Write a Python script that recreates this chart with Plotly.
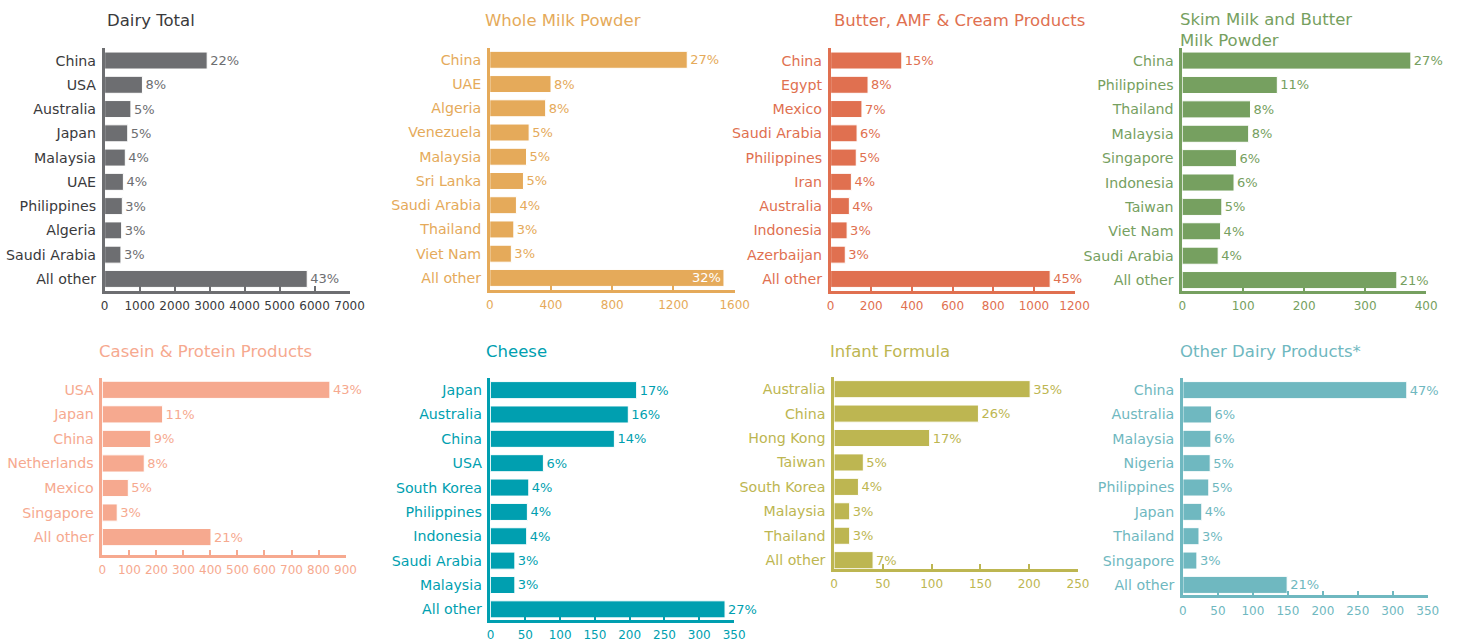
import plotly.graph_objects as go

# ---------------- data ----------------
dairy_total_countries = ["China", "USA", "Australia", "Japan", "Malaysia", "UAE", "Philippines", "Algeria", "Saudi Arabia", "All other"]
dairy_total_values = [2930, 1080, 750, 660, 590, 535, 505, 485, 465, 5790]
dairy_total_pct = ["22%", "8%", "5%", "5%", "4%", "4%", "3%", "3%", "3%", "43%"]

wmp_countries = ["China", "UAE", "Algeria", "Venezuela", "Malaysia", "Sri Lanka", "Saudi Arabia", "Thailand", "Viet Nam", "All other"]
wmp_values = [1290, 400, 365, 257, 240, 220, 174, 157, 141, 1530]
wmp_pct = ["27%", "8%", "8%", "5%", "5%", "5%", "4%", "3%", "3%", "32%"]

butter_countries = ["China", "Egypt", "Mexico", "Saudi Arabia", "Philippines", "Iran", "Australia", "Indonesia", "Azerbaijan", "All other"]
butter_values = [350, 184, 154, 130, 126, 102, 92, 81, 72, 1080]
butter_pct = ["15%", "8%", "7%", "6%", "5%", "4%", "4%", "3%", "3%", "45%"]

smp_countries = ["China", "Philippines", "Thailand", "Malaysia", "Singapore", "Indonesia", "Taiwan", "Viet Nam", "Saudi Arabia", "All other"]
smp_values = [375, 156, 112, 109, 89, 85, 65, 63, 59, 352]
smp_pct = ["27%", "11%", "8%", "8%", "6%", "6%", "5%", "4%", "4%", "21%"]

casein_countries = ["USA", "Japan", "China", "Netherlands", "Mexico", "Singapore", "All other"]
casein_values = [842, 223, 179, 155, 96, 55, 402]
casein_pct = ["43%", "11%", "9%", "8%", "5%", "3%", "21%"]

cheese_countries = ["Japan", "Australia", "China", "USA", "South Korea", "Philippines", "Indonesia", "Saudi Arabia", "Malaysia", "All other"]
cheese_values = [210, 198, 178, 76, 55, 53, 52, 35, 35, 337]
cheese_pct = ["17%", "16%", "14%", "6%", "4%", "4%", "4%", "3%", "3%", "27%"]

infant_countries = ["Australia", "China", "Hong Kong", "Taiwan", "South Korea", "Malaysia", "Thailand", "All other"]
infant_values = [201, 148, 98, 30, 25, 16, 16, 40]
infant_pct = ["35%", "26%", "17%", "5%", "4%", "3%", "3%", "7%"]

other_countries = ["China", "Australia", "Malaysia", "Nigeria", "Philippines", "Japan", "Thailand", "Singapore", "All other"]
other_values = [320, 41, 40, 39, 37, 27, 23, 20, 149]
other_pct = ["47%", "6%", "6%", "5%", "5%", "4%", "3%", "3%", "21%"]

titles = ["Dairy Total", "Whole Milk Powder", "Butter, AMF & Cream Products",
          "Skim Milk and Butter<br>Milk Powder", "Casein & Protein Products",
          "Cheese", "Infant Formula", "Other Dairy Products*"]
x_max = [7000, 1600, 1200, 400, 900, 350, 250, 350]
x_step = [1000, 400, 200, 100, 100, 50, 50, 50]

# ---------------- styling ----------------
W, H = 1459, 642
SX, BX = 0.9874, 2.3  # observed horizontal rendering scale / shift
SY = 0.996            # observed vertical rendering scale
FONT = "DejaVu Sans"
bar_colors = ["#6d6e71", "#e5aa5a", "#e07050", "#76a060", "#f6a98f", "#009fb0", "#bdb651", "#6fb8c0"]
label_colors = ["#3a3a3c", "#e5aa5a", "#e07050", "#76a060", "#f6a98f", "#009fb0", "#bdb651", "#6fb8c0"]
value_colors = ["#6d6e71", "#e5aa5a", "#e07050", "#76a060", "#f6a98f", "#009fb0", "#bdb651", "#6fb8c0"]

# pixel boxes in the reference picture: x0, x1, y_top, y_axis, range_bottom
boxes = [
    (103, 348, 48.5, 291.7, 9.5),
    (488.3, 733.3, 47.8, 290.7, 9.5),
    (829.3, 1073.3, 48.5, 291.7, 9.5),
    (1181, 1425, 48.5, 291.7, 9.45),
    (100.7, 344, 378.4, 556, 6.72),
    (489, 732.7, 378.8, 621.7, 9.45),
    (832.7, 1076.7, 377.8, 570, 7.35),
    (1181.7, 1426.7, 378.8, 596.7, 8.43),
]
title_pos = [(107, 21), (486, 21), (835, 21), (1181, 30.5), (99, 352), (487, 352), (831, 352), (1181, 352)]

panels = [
    (dairy_total_countries, dairy_total_values, dairy_total_pct),
    (wmp_countries, wmp_values, wmp_pct),
    (butter_countries, butter_values, butter_pct),
    (smp_countries, smp_values, smp_pct),
    (casein_countries, casein_values, casein_pct),
    (cheese_countries, cheese_values, cheese_pct),
    (infant_countries, infant_values, infant_pct),
    (other_countries, other_values, other_pct),
]


def px_x(v):
    return ((v - BX) / SX) / W


def px_y(v):
    return max(0.0, 1 - (v / SY) / H)


fig = go.Figure()
layout = {}
annotations = []
for i, (cats, vals, pcts) in enumerate(panels):
    k = i + 1
    xa = "x" if k == 1 else f"x{k}"
    ya = "y" if k == 1 else f"y{k}"
    n = len(cats)
    positions = ["outside"] * n
    tcolors = [value_colors[i]] * n
    if i == 1:  # WMP "All other" label sits inside the bar in white
        positions[-1] = "inside"
        tcolors[-1] = "#ffffff"
    fig.add_trace(go.Bar(
        x=vals, y=cats, orientation="h", xaxis=xa, yaxis=ya,
        marker=dict(color=bar_colors[i], line=dict(color="#ffffff", width=1)),
        text=pcts, textposition=positions, insidetextanchor="end",
        textfont=dict(family=FONT, size=13, color=tcolors),
        cliponaxis=False, showlegend=False, hoverinfo="skip",
    ))
    x0, x1, yt, yb, rb = boxes[i]
    layout[f"xaxis{k}"] = dict(
        domain=[px_x(x0), px_x(x1)], anchor=ya, range=[0, x_max[i]],
        tickvals=list(range(0, x_max[i] + 1, x_step[i])),
        showgrid=False, zeroline=False, showline=True, linecolor=bar_colors[i], linewidth=2.5,
        ticks="inside", ticklen=5, tickwidth=2, tickcolor=bar_colors[i],
        ticklabelstandoff=2,
        tickfont=dict(family=FONT, size=12, color=label_colors[i]), fixedrange=True,
    )
    layout[f"yaxis{k}"] = dict(
        domain=[px_y(yb), px_y(yt)], anchor=xa, type="category",
        range=[rb, -0.5], showgrid=False, zeroline=False,
        showline=True, linecolor=bar_colors[i], linewidth=2.5, ticks="",
        ticklabelstandoff=3,
        tickfont=dict(family=FONT, size=14.2, color=label_colors[i]), fixedrange=True,
    )
    tx, ty = title_pos[i]
    annotations.append(dict(
        text=titles[i], x=px_x(tx - 4), y=px_y(ty), xref="paper", yref="paper",
        xanchor="left", yanchor="middle", align="left", showarrow=False,
        font=dict(family=FONT, size=16.5, color=label_colors[i]),
    ))

fig.update_layout(
    width=W, height=H, margin=dict(l=0, r=0, t=0, b=0),
    paper_bgcolor="white", plot_bgcolor="white",
    bargap=0.3, annotations=annotations, font=dict(family=FONT),
    uniformtext=dict(minsize=13, mode="show"),
    **layout,
)
fig.write_html(
    "out.html",
    config={"responsive": False, "displayModeBar": False},
    post_script="document.body.style.margin='0';document.body.style.overflow='hidden';",
)
